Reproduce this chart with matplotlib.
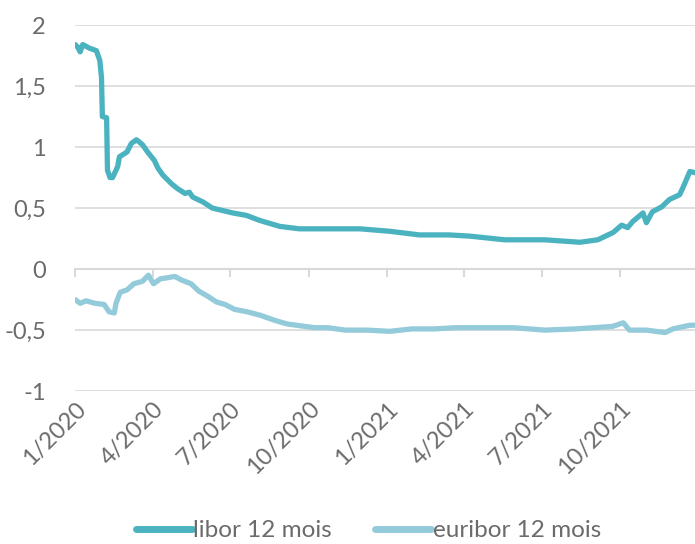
import matplotlib
matplotlib.use("Agg")
import matplotlib.pyplot as plt
import matplotlib.dates as mdates
import pandas as pd

libor_dates = [
    "2020-01-01", "2020-01-04", "2020-01-07", "2020-01-10", "2020-01-18", "2020-01-26",
    "2020-01-30", "2020-02-01", "2020-02-02", "2020-02-07", "2020-02-08",
    "2020-02-11", "2020-02-14", "2020-02-20", "2020-02-22", "2020-03-02",
    "2020-03-07", "2020-03-13", "2020-03-20", "2020-03-26", "2020-04-03",
    "2020-04-07", "2020-04-13", "2020-04-23", "2020-04-30", "2020-05-09",
    "2020-05-14", "2020-05-18", "2020-05-30", "2020-06-10", "2020-07-04",
    "2020-07-20", "2020-08-04", "2020-08-28", "2020-09-20", "2020-10-26",
    "2020-11-30", "2021-01-04", "2021-02-08", "2021-03-15", "2021-04-08",
    "2021-05-19", "2021-07-05", "2021-08-15", "2021-09-05", "2021-09-23",
    "2021-10-03", "2021-10-10", "2021-10-16", "2021-10-28", "2021-11-01",
    "2021-11-08", "2021-11-19", "2021-11-28", "2021-12-10", "2021-12-14",
    "2021-12-22", "2021-12-28",
]
libor = [
    1.84, 1.82, 1.78, 1.84, 1.81, 1.79,
    1.71, 1.57, 1.25, 1.24, 0.81,
    0.75, 0.75, 0.84, 0.92, 0.96,
    1.03, 1.06, 1.02, 0.96, 0.89,
    0.83, 0.77, 0.70, 0.66, 0.62,
    0.63, 0.59, 0.55, 0.50, 0.46,
    0.44, 0.40, 0.35, 0.33, 0.33,
    0.33, 0.31, 0.28, 0.28, 0.27,
    0.24, 0.24, 0.22, 0.24, 0.30,
    0.36, 0.34, 0.39, 0.46, 0.38,
    0.47, 0.51, 0.57, 0.61, 0.67,
    0.80, 0.79,
]

euribor_dates = [
    "2020-01-01", "2020-01-07", "2020-01-14", "2020-01-24", "2020-02-04",
    "2020-02-10", "2020-02-16", "2020-02-18", "2020-02-23", "2020-03-02",
    "2020-03-10", "2020-03-20", "2020-03-27", "2020-04-02", "2020-04-10",
    "2020-04-19", "2020-04-27", "2020-05-05", "2020-05-16", "2020-05-25",
    "2020-06-04", "2020-06-15", "2020-06-25", "2020-07-06", "2020-07-21",
    "2020-08-06", "2020-08-22", "2020-09-06", "2020-09-27", "2020-10-08",
    "2020-10-23", "2020-11-13", "2020-12-09", "2021-01-04", "2021-01-30",
    "2021-02-25", "2021-03-23", "2021-04-29", "2021-05-29", "2021-07-05",
    "2021-08-10", "2021-09-22", "2021-10-05", "2021-10-12", "2021-11-01",
    "2021-11-23", "2021-12-02", "2021-12-22", "2021-12-28",
]
euribor = [
    -0.25, -0.28, -0.26, -0.28, -0.29,
    -0.35, -0.36, -0.28, -0.19, -0.17,
    -0.12, -0.10, -0.05, -0.12, -0.08,
    -0.07, -0.06, -0.09, -0.12, -0.18,
    -0.22, -0.27, -0.29, -0.33, -0.35,
    -0.38, -0.42, -0.45, -0.47, -0.48,
    -0.48, -0.50, -0.50, -0.51, -0.49,
    -0.49, -0.48, -0.48, -0.48, -0.50,
    -0.49, -0.47, -0.44, -0.50, -0.50,
    -0.52, -0.49, -0.46, -0.46,
]

y_ticks = [-1, -0.5, 0, 0.5, 1, 1.5, 2]
y_labels = ["-1", "-0,5", "0", "0,5", "1", "1,5", "2"]

libor_color = "#4bb3c0"
euribor_color = "#94cbda"
text_color = "#6b6b6b"

plt.rcParams["font.family"] = ["Lato", "DejaVu Sans"]

fig = plt.figure(figsize=(6.95, 5.44), dpi=100)
ax = fig.add_axes([0.108, 0.281, 0.892, 0.673])

ax.plot(pd.to_datetime(libor_dates), libor, color=libor_color, lw=3.8,
        solid_joinstyle="round", solid_capstyle="round", label="libor 12 mois")
ax.plot(pd.to_datetime(euribor_dates), euribor, color=euribor_color, lw=3.8,
        solid_joinstyle="round", solid_capstyle="round", label="euribor 12 mois")

ax.set_ylim(-1, 2)
ax.set_xlim(pd.Timestamp("2020-01-01"), pd.Timestamp("2021-12-28"))
ax.set_yticks(y_ticks)
ax.set_yticklabels(y_labels)

for y in y_ticks:
    if y != 0:
        ax.axhline(y, color="#d9d9d9", lw=1.2, zorder=0)
ax.axhline(0, color="#d9d9d9", lw=1.5, zorder=0)

for s in ax.spines.values():
    s.set_visible(False)

# date ticks hang from the zero line
ax.xaxis.set_major_locator(mdates.MonthLocator(bymonth=[1, 4, 7, 10]))
ax.xaxis.set_major_formatter(
    matplotlib.ticker.FuncFormatter(lambda v, p: f"{mdates.num2date(v).month}/{mdates.num2date(v).year}")
)
ax.tick_params(axis="x", length=0, labelsize=17, colors=text_color, pad=5)
for t in ax.get_xticks():
    ax.plot([t, t], [0, -0.06], color="#d9d9d9", lw=1.5, zorder=0, clip_on=False)
plt.setp(ax.get_xticklabels(), rotation=45, ha="right", rotation_mode="anchor")

ax.tick_params(axis="y", length=0, labelsize=17, colors=text_color, pad=21)
for lbl in ax.get_yticklabels():
    lbl.set_horizontalalignment("right")

leg = fig.legend(loc="lower center", bbox_to_anchor=(0.53, -0.035), ncol=2,
                 frameon=False, fontsize=17.5, handlelength=2.3, handletextpad=0.05,
                 columnspacing=1.8)
for txt in leg.get_texts():
    txt.set_color(text_color)
for line in leg.get_lines():
    line.set_linewidth(5)

fig.savefig("out.png", dpi=100)
